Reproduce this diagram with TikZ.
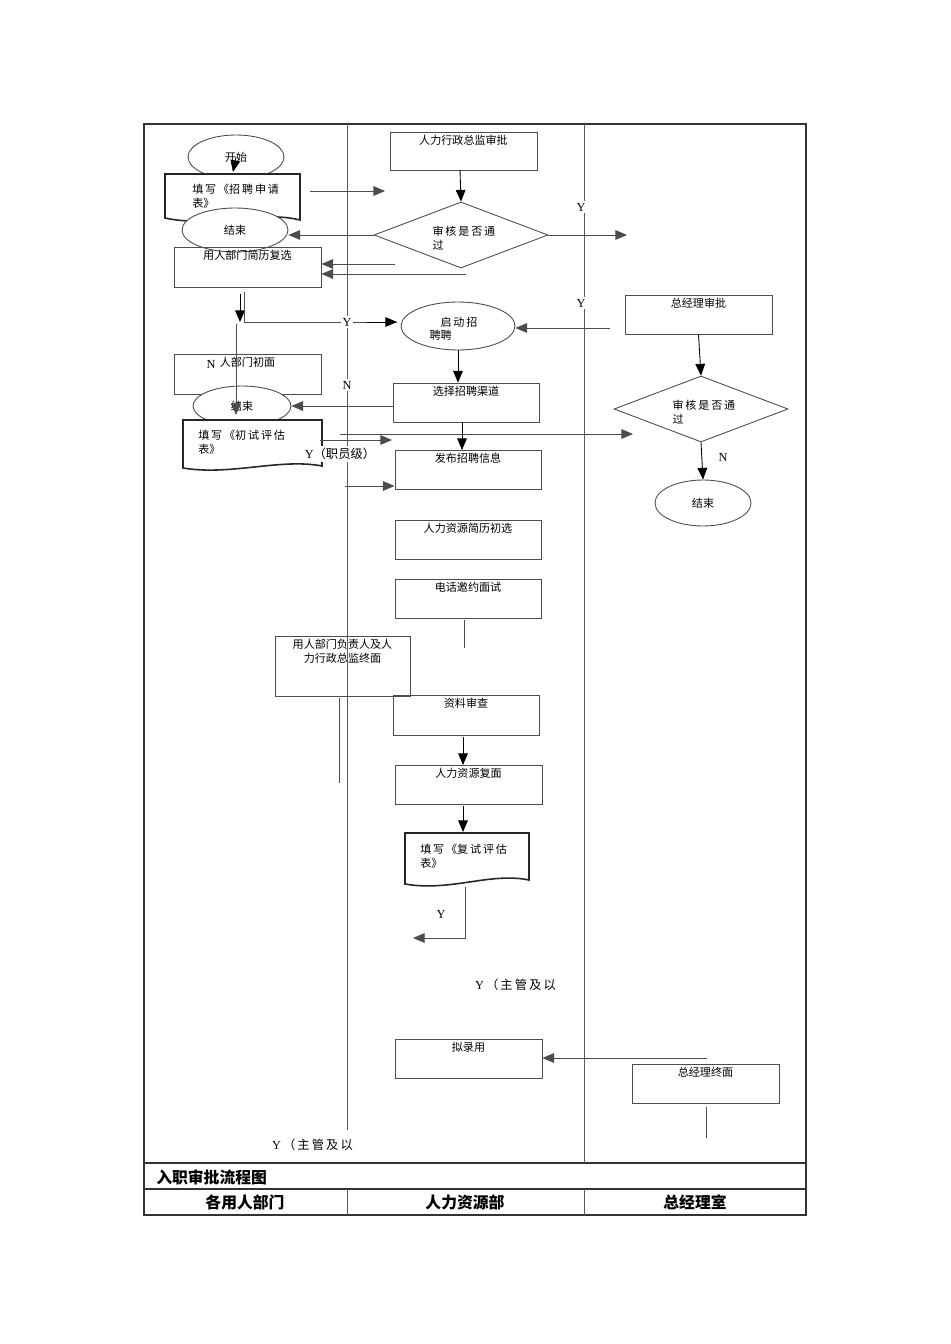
\documentclass[tikz,border=0pt]{standalone}
\usepackage{fontspec}
\setmainfont{Noto Sans CJK SC}
\newfontfamily\lat{Liberation Serif}
\usetikzlibrary{fit, arrows, shapes.geometric}
\tikzset{block/.style={draw=black!70, inner sep=0pt, fit={#1}}}

\begin{document}
\begin{tikzpicture}[x=0.02cm, y=-0.02cm, >=triangle 45, line width=0.5pt,
  font=\fontsize{6.3}{7.6}\selectfont]
  \tikzstyle{frame} = [draw=black!80, line width=0.7pt]
  \tikzstyle{lane} = [draw=black!65]
  \tikzstyle{txt} = [below, inner sep=2pt, align=center]
  \tikzstyle{term} = [draw=black!70, ellipse, inner sep=0pt]
  \tikzstyle{choice} = [draw=black!70, diamond, inner sep=0pt, aspect=2.6]
  \tikzstyle{lab} = [fill=white, inner sep=1pt, font=\lat\fontsize{7}{8}\selectfont]
  \tikzstyle{doc} = [draw=black!85, line width=0.9pt]
  \tikzstyle{line} = [draw=black!70]
  \useasboundingbox (0,0) rectangle (950,1344);

  % frame and lanes
  \draw [frame] (144,124) rectangle (806,1215);
  \draw [frame] (144,1163) -- (806,1163);
  \draw [frame] (144,1189) -- (806,1189);
  \draw [lane] (347,124) -- (347,1130);
  \draw [lane] (347,1189) -- (347,1215);
  \draw [lane] (584,124) -- (584,1163);
  \draw [lane] (584,1189) -- (584,1215);
  \node [anchor=west, font=\bfseries\fontsize{9}{10}\selectfont] (title) at (150,1177) {入职审批流程图};
  \node [font=\bfseries\fontsize{9}{10}\selectfont] (h1) at (245,1202) {各用人部门};
  \node [font=\bfseries\fontsize{9}{10}\selectfont] (h2) at (465,1202) {人力资源部};
  \node [font=\bfseries\fontsize{9}{10}\selectfont] (h3) at (695,1202) {总经理室};

  % left lane
  \node [term, minimum width=1.92cm, minimum height=0.88cm] (start) at (236,157) {开始};
  \fill [white] (165,174) -- (300,174) -- (300,220) .. controls (260,210) and (210,228) .. (165,218) -- cycle;
  \draw [doc] (165,174) -- (300,174) -- (300,220) .. controls (260,210) and (210,228) .. (165,218) -- cycle;
  \node [anchor=north west, text width=2.3cm] (apply) at (186,178) {填\,写\,《招\,聘\,申\,请\\表》};
  \node [term, fill=white, minimum width=2.12cm, minimum height=0.88cm] (end1) at (235,230) {结束};
  \node [block={(174,247) (321,287)}] (resume2) {};
  \node [txt] at (resume2.north) {用人部门简历复选};
  \node [block={(174,354) (321,394)}] (interview1) {};
  \node [txt] at (interview1.north) {人部门初面};
  \node [lab] (n1) at (211,364) {N};
  \node [term, fill=white, minimum width=1.96cm, minimum height=0.8cm] (end2) at (242,406) {结束};
  \fill [white] (183,420) -- (322,420) -- (322,466) .. controls (280,458) and (230,476) .. (183,468) -- cycle;
  \draw [doc] (183,420) -- (322,420) -- (322,466) .. controls (280,458) and (230,476) .. (183,468) -- cycle;
  \node [anchor=north west, text width=2.4cm] (eval1) at (192,424) {填\,写\,《初\,试\,评\,估\\表》};
  \node [block={(275,636) (410,696)}] (final1) {};
  \node [txt] at (final1.north) {用人部门负责人及人\\力行政总监终面};
  \coordinate (f1a) at (339,698);
  \coordinate (f1b) at (339,783);
  \draw [line] (f1a) -- (f1b);
  \node [lab, anchor=west] (ylow) at (270,1145) {Y\,\fontspec{Noto Sans CJK SC}（\,主\,管\,及\,以};

  % middle lane
  \node [block={(390,132) (537,170)}] (hrdir) {};
  \node [txt] at (hrdir.north) {人力行政总监审批};
  \node [choice, minimum width=3.48cm, minimum height=1.32cm] (check1) at (461,235) {};
  \node [text width=1.3cm] at (465,238) {审\,核\,是\,否\,通\\过};
  \node [term, minimum width=2.28cm, minimum height=0.96cm] (launch) at (458,326) {};
  \node [text width=1.3cm] at (462,329) {\quad 启\,动\,招\\聘聘};
  \node [block={(393,383) (539,422)}] (channel) {};
  \node [txt] at (channel.north) {选择招聘渠道};
  \node [block={(395,450) (541,489)}] (publish) {};
  \node [txt] at (publish.north) {发布招聘信息};
  \node [block={(395,520) (541,559)}] (resume1) {};
  \node [txt] at (resume1.north) {人力资源简历初选};
  \node [block={(395,579) (541,618)}] (phone) {};
  \node [txt] at (phone.north) {电话邀约面试};
  \node [block={(393,695) (539,735)}] (review) {};
  \node [txt] at (review.north) {资料审查};
  \node [block={(395,765) (542,804)}] (interview2) {};
  \node [txt] at (interview2.north) {人力资源复面};
  \draw [doc] (405,833) -- (529,833) -- (529,880) .. controls (490,872) and (450,892) .. (405,884) -- cycle;
  \node [anchor=north west, text width=2.3cm] (eval2) at (414,838) {填\,写\,《复\,试\,评\,估\\表》};
  \node [lab] (y5) at (441,914) {Y};
  \node [lab, anchor=west] (ymid) at (473,985) {Y\,\fontspec{Noto Sans CJK SC}（\,主\,管\,及\,以};
  \node [block={(395,1039) (542,1078)}] (offer) {};
  \node [txt] at (offer.north) {拟录用};

  % right lane
  \node [block={(625,295) (772,334)}] (gm) {};
  \node [txt] at (gm.north) {总经理审批};
  \node [choice, minimum width=3.48cm, minimum height=1.32cm] (check2) at (701,409) {};
  \node [text width=1.3cm] at (705,412) {审\,核\,是\,否\,通\\过};
  \node [term, minimum width=1.92cm, minimum height=0.92cm] (end3) at (703,503) {结束};
  \node [block={(632,1064) (779,1103)}] (gmfinal) {};
  \node [txt] at (gmfinal.north) {总经理终面};

  % free ends
  \coordinate (a1) at (310,191);  \coordinate (a2) at (385,191);
  \coordinate (a3) at (627,235);
  \coordinate (a4) at (395,264);  \coordinate (a5) at (466,274);
  \coordinate (a6) at (244,292);  \coordinate (a7) at (244,322);
  \coordinate (a8) at (397,322);  \coordinate (a9) at (610,328);
  \coordinate (b1) at (236,324);  \coordinate (b2) at (236,415);
  \coordinate (b3) at (340,434);  \coordinate (b4) at (633,434);
  \coordinate (b5) at (320,440);  \coordinate (b6) at (392,440);
  \coordinate (b7) at (345,486);
  \coordinate (b8) at (464,620);  \coordinate (b9) at (464,648);
  \coordinate (c1) at (465,938);  \coordinate (c2) at (413,938);
  \coordinate (c3) at (707,1058);
  \coordinate (c4) at (706,1107); \coordinate (c5) at (706,1138);
  \coordinate (d1) at (240,294);  \coordinate (d2) at (240,322);

  % connectors
  \draw [->] (start.center) -- (233,172);
  \draw [->, line] (a1) -- (a2);
  \draw [->] (460,170) -- (check1.north);
  \draw [->, line] (check1.west) -- (end1.east |- check1.west);
  \draw [->, line] (check1.east) -- (a3);
  \node [lab] (y1) at (581,207) {Y};
  \draw [->, line] (a4) -- (resume2.east |- a4);
  \draw [->, line] (a5) -- (resume2.east |- a5);
  \draw [->] (d1) -- (d2);
  \draw [line] (a6) -- (a7) -- (a8);
  \draw [->] (367,322) -- (a8);
  \node [lab] (y2) at (347,322) {Y};
  \draw [->, line] (a9) -- (launch.east |- a9);
  \node [lab] (y3) at (581,303) {Y};
  \draw [->] (launch.south) -- (launch.south |- channel.north);
  \node [lab] (n2) at (347,385) {N};
  \draw [->, line] (b1) -- (b2);
  \draw [->, line] (channel.west |- end2) -- (end2.east);
  \draw [->] (462,422) -- (462,450);
  \draw [->, line] (b3) -- (b4);
  \draw [->, line] (b5) -- (b6);
  \node [lab, fill=white] (y4) at (340,454) {Y\fontspec{Noto Sans CJK SC}（职员级）};
  \draw [->, line] (b7) -- (b7 -| publish.west);
  \draw [->] (gm.south) -- (check2.north);
  \draw [->] (check2.south) -- (end3.north);
  \node [lab] (n3) at (723,457) {N};
  \draw [line] (b8) -- (b9);
  \draw [->] (463,737) -- (463,765);
  \draw [->] (463,806) -- (463,832);
  \draw [->, line] (465,887) -- (c1) -- (c2);
  \draw [->, line] (c3) -- (offer.east |- c3);
  \draw [line] (c4) -- (c5);
\end{tikzpicture}
\end{document}
